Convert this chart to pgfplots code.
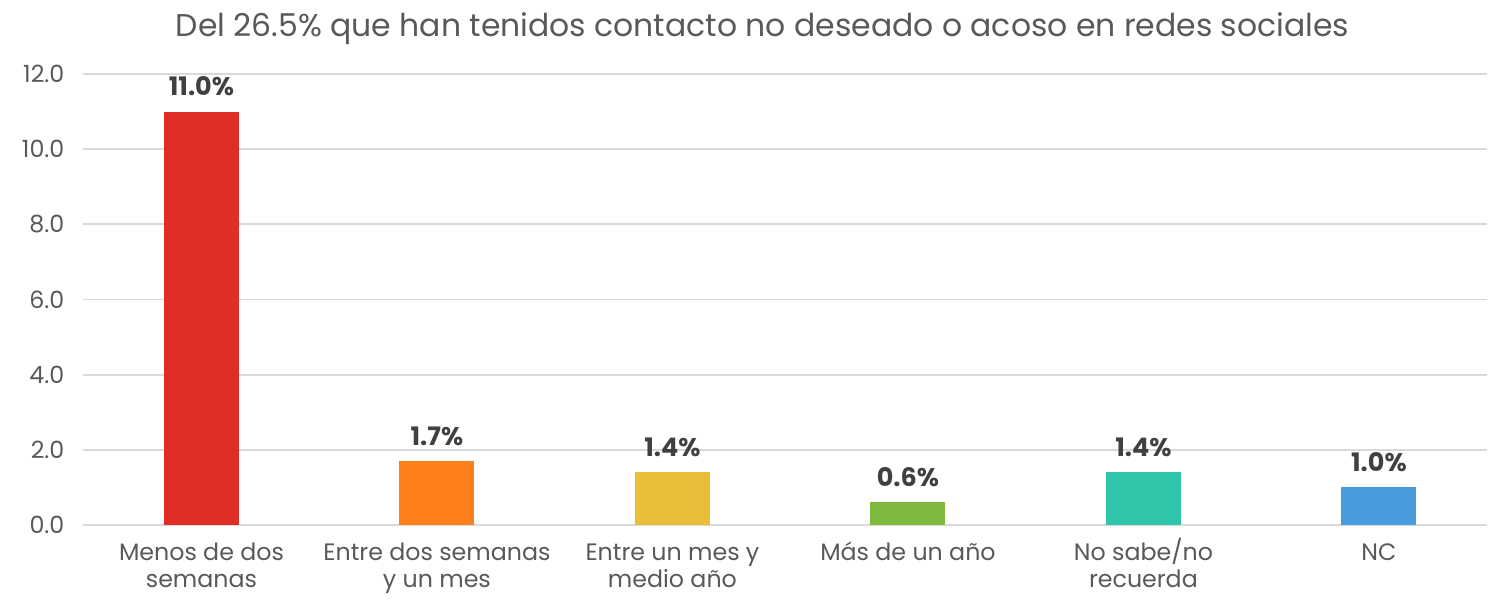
\documentclass[border=0pt]{standalone}
\usepackage{pgfplots}
\pgfplotsset{compat=1.18}
\usepackage{fontspec}
\setmainfont{Poppins}
\definecolor{txt}{HTML}{595959}
\definecolor{lbl}{HTML}{404040}
\definecolor{grd}{HTML}{D9D9D9}
\definecolor{c1}{HTML}{E02D27}
\definecolor{c2}{HTML}{FF7F1A}
\definecolor{c3}{HTML}{E8BF36}
\definecolor{c4}{HTML}{7FBA3F}
\definecolor{c5}{HTML}{2FC5A8}
\definecolor{c6}{HTML}{4A9BDB}
\newcommand\st{\rule{0pt}{15pt}}
\begin{document}
\begin{tikzpicture}
\begin{axis}[
  scale only axis,
  width=28.08cm, height=9.02cm,
  xmin=-0.503, xmax=5.459,
  ymin=0, ymax=12,
  ytick={0,2,...,12},
  yticklabel style={/pgf/number format/fixed, /pgf/number format/fixed zerofill, /pgf/number format/precision=1},
  /pgf/number format/assume math mode=true,
  xtick={0,...,5},
  xticklabels={{\st Menos de dos\\semanas},{\st Entre dos semanas\\y un mes},{\st Entre un mes y\\medio año},{\st Más de un año},{\st No sabe/no\\recuerda},{\st NC}},
  xticklabel style={align=center, text=txt, font=\fontsize{13.5}{15.2}\selectfont, anchor=north, yshift=-0.14cm, inner sep=1pt},
  yticklabel style={text=txt, font=\fontsize{13.5}{16}\selectfont, xshift=-0.25cm},
  axis line style={draw=none},
  tick style={draw=none},
  ymajorgrids, grid style={grd, line width=1pt},
  title={Del 26.5\% que han tenidos contacto no deseado o acoso en redes sociales},
  title style={at={(0.484,1)}, anchor=base, yshift=0.54cm, text=txt, font=\fontsize{17.9}{21}\selectfont},
  nodes near coords={\pgfmathprintnumber[fixed,fixed zerofill,precision=1]{\pgfplotspointmeta}\%},
  nodes near coords style={font=\bfseries\fontsize{14.5}{16}\selectfont, text=lbl, /pgf/number format/assume math mode=true, anchor=base, yshift=0.32cm},
  every axis plot/.append style={ybar, bar width=1.5cm, bar shift=0pt, draw=none},
]
\addplot[fill=c1] coordinates {(0,11.0)};
\addplot[fill=c2] coordinates {(1,1.7)};
\addplot[fill=c3] coordinates {(2,1.4)};
\addplot[fill=c4] coordinates {(3,0.6)};
\addplot[fill=c5] coordinates {(4,1.4)};
\addplot[fill=c6] coordinates {(5,1.0)};
\end{axis}
\pgfresetboundingbox
\path (-1.66,-1.5) rectangle (28.14,10.5);
\end{tikzpicture}
\end{document}
